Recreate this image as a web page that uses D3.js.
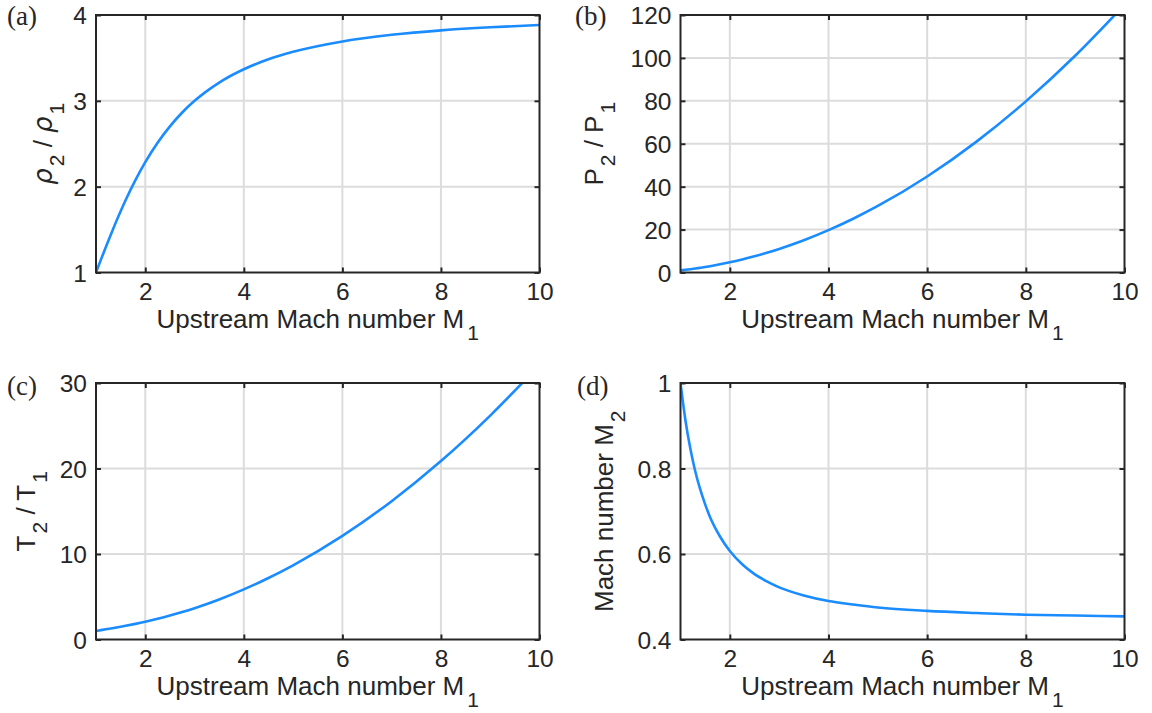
<!DOCTYPE html>
<html>
<head>
<meta charset="utf-8">
<script src="https://cdn.jsdelivr.net/npm/d3@7"></script>
<style>
  html, body { margin: 0; padding: 0; background: #ffffff; }
  svg { display: block; }
  text { fill: #262626; }
</style>
</head>
<body>
<svg id="chart" width="1152" height="713"></svg>
<script>
// Upstream Mach number samples (x values)
const mach = [1, 1.1, 1.2, 1.3, 1.4, 1.5, 1.6, 1.8, 2, 2.25, 2.5, 2.75, 3, 3.5, 4, 4.5, 5, 6, 7, 8, 9, 10];
// (a) density ratio rho2/rho1
const densityRatio = [1.000, 1.150, 1.297, 1.441, 1.581, 1.714, 1.842, 2.077, 2.286, 2.512, 2.703, 2.864, 3.000, 3.213, 3.368, 3.484, 3.571, 3.692, 3.769, 3.821, 3.857, 3.883];
// (b) pressure ratio P2/P1
const pressureRatio = [1.00, 1.26, 1.55, 1.86, 2.20, 2.56, 2.95, 3.80, 4.75, 6.08, 7.56, 9.20, 11.00, 15.06, 19.75, 25.06, 31.00, 44.75, 61.00, 79.75, 101.0, 124.75];
// (c) temperature ratio T2/T1
const temperatureRatio = [1.000, 1.098, 1.195, 1.292, 1.392, 1.495, 1.602, 1.830, 2.078, 2.420, 2.798, 3.214, 3.667, 4.688, 5.863, 7.194, 8.680, 12.12, 16.18, 20.87, 26.19, 32.12];
// (d) downstream Mach number M2
const downstreamMach = [1.000, 0.913, 0.846, 0.793, 0.751, 0.716, 0.686, 0.641, 0.607, 0.576, 0.553, 0.536, 0.522, 0.503, 0.490, 0.482, 0.475, 0.467, 0.462, 0.458, 0.456, 0.454];

// axis ticks
const xTicks = [2, 4, 6, 8, 10];
const yTicksA = [1, 2, 3, 4];
const yTicksB = [0, 20, 40, 60, 80, 100, 120];
const yTicksC = [0, 10, 20, 30];
const yTicksD = [0.4, 0.6, 0.8, 1];
const yTickLabelsD = ["0.4", "0.6", "0.8", "1"];

const xLabelMain = "Upstream Mach number M";
const xLabelSub = "1";

const panels = [
  { id: "a", letter: "(a)", values: densityRatio, yDomain: [1, 4], yTicks: yTicksA, yTickLabels: yTicksA.map(String),
    ylabel: [["ρ", false, true], ["2", true], [" / ", false], ["ρ", false, true], ["1", true]],
    left: 96, right: 539.5, top: 15, bottom: 272.5, ylabX: 52, letterX: 7, letterY: 25, xlabY: 327.5 },
  { id: "b", letter: "(b)", values: pressureRatio, yDomain: [0, 120], yTicks: yTicksB, yTickLabels: yTicksB.map(String),
    ylabel: [["P", false], ["2", true], [" / P", false], ["1", true]],
    left: 680.5, right: 1124.5, top: 15, bottom: 272.5, ylabX: 603, letterX: 575, letterY: 25, xlabY: 327.5 },
  { id: "c", letter: "(c)", values: temperatureRatio, yDomain: [0, 30], yTicks: yTicksC, yTickLabels: yTicksC.map(String),
    ylabel: [["T", false], ["2", true], [" / T", false], ["1", true]],
    left: 96, right: 539.5, top: 383, bottom: 639.5, ylabX: 35, letterX: 7, letterY: 395, xlabY: 695 },
  { id: "d", letter: "(d)", values: downstreamMach, yDomain: [0.4, 1], yTicks: yTicksD, yTickLabels: yTickLabelsD,
    ylabel: [["Mach number M", false], ["2", true]],
    left: 680.5, right: 1124.5, top: 383, bottom: 639.5, ylabX: 613, letterX: 577, letterY: 395, xlabY: 695 }
];

const AX = "#262626", GRID = "#dcdcdc", LINE = "#1a8cff";
const TICKFONT = "24.5px", LABFONT = "26px", SUBFONT = "21px", SUBDY = 12;
const SANS = "'Liberation Sans', Arial, Helvetica, sans-serif";
const SERIF = "'Liberation Serif', 'DejaVu Serif', serif";

const svg = d3.select("#chart");

panels.forEach(p => {
  const x = d3.scaleLinear().domain([1, 10]).range([p.left, p.right]);
  const y = d3.scaleLinear().domain(p.yDomain).range([p.bottom, p.top]);
  const g = svg.append("g");

  // clip
  const clipId = "clip-" + p.id;
  svg.append("clipPath").attr("id", clipId).append("rect")
    .attr("x", p.left).attr("y", p.top).attr("width", p.right - p.left).attr("height", p.bottom - p.top);

  // grid
  g.append("g").selectAll("line").data(xTicks.filter(t => t > 1 && t < 10)).join("line")
    .attr("x1", d => x(d)).attr("x2", d => x(d)).attr("y1", p.top).attr("y2", p.bottom)
    .attr("stroke", GRID).attr("stroke-width", 2);
  g.append("g").selectAll("line").data(p.yTicks.filter(t => t > p.yDomain[0] && t < p.yDomain[1])).join("line")
    .attr("y1", d => y(d)).attr("y2", d => y(d)).attr("x1", p.left).attr("x2", p.right)
    .attr("stroke", GRID).attr("stroke-width", 2);

  // curve
  const line = d3.line().x((d, i) => x(mach[i])).y(d => y(d)).curve(d3.curveMonotoneX);
  g.append("path").datum(p.values).attr("d", line)
    .attr("fill", "none").attr("stroke", LINE).attr("stroke-width", 2.6)
    .attr("clip-path", "url(#" + clipId + ")");

  // axes using d3 axes (inward ticks, mirrored)
  const styleAxis = sel => {
    sel.select(".domain").remove();
    sel.selectAll(".tick line").attr("stroke", AX).attr("stroke-width", 2);
    sel.selectAll("text").attr("font-family", SANS).attr("font-size", TICKFONT).attr("fill", AX);
  };
  const xAxis = d3.axisBottom(x).tickValues(xTicks).tickSizeInner(-5).tickSizeOuter(0).tickPadding(0).tickFormat(d3.format("d"));
  const xg = g.append("g").attr("transform", `translate(0,${p.bottom})`).call(xAxis).call(styleAxis);
  xg.selectAll("text").attr("dy", null).attr("y", 27).attr("dominant-baseline", "alphabetic");
  g.append("g").attr("transform", `translate(0,${p.top})`)
    .call(d3.axisTop(x).tickValues(xTicks).tickSizeInner(-5).tickSizeOuter(0).tickFormat(""))
    .call(styleAxis);

  const yAxis = d3.axisLeft(y).tickValues(p.yTicks).tickSizeInner(-5).tickSizeOuter(0).tickPadding(0)
    .tickFormat((d, i) => p.yTickLabels[i]);
  const yg = g.append("g").attr("transform", `translate(${p.left},0)`).call(yAxis).call(styleAxis);
  yg.selectAll("text").attr("x", -9).attr("dy", "0.36em").attr("text-anchor", "end");
  g.append("g").attr("transform", `translate(${p.right},0)`)
    .call(d3.axisRight(y).tickValues(p.yTicks).tickSizeInner(-5).tickSizeOuter(0).tickFormat(""))
    .call(styleAxis);

  // box
  g.append("rect").attr("x", p.left).attr("y", p.top)
    .attr("width", p.right - p.left).attr("height", p.bottom - p.top)
    .attr("fill", "none").attr("stroke", AX).attr("stroke-width", 2);

  // x label
  const xl = g.append("text").attr("x", (p.left + p.right) / 2).attr("y", p.xlabY)
    .attr("text-anchor", "middle").attr("font-family", SANS).attr("font-size", LABFONT);
  xl.append("tspan").text(xLabelMain);
  xl.append("tspan").attr("dy", SUBDY).attr("dx", 3).attr("font-size", SUBFONT).text(xLabelSub);

  // y label
  const yl = g.append("text")
    .attr("transform", `translate(${p.ylabX},${(p.top + p.bottom) / 2}) rotate(-90)`)
    .attr("text-anchor", "middle").attr("font-family", SANS).attr("font-size", LABFONT)
    .style("white-space", "pre");
  let shifted = false;
  p.ylabel.forEach(([txt, sub, greek]) => {
    const t = yl.append("tspan").text(txt);
    if (sub && !shifted) { t.attr("dy", SUBDY).attr("dx", 2); shifted = true; }
    else if (!sub && shifted) { t.attr("dy", -SUBDY); shifted = false; }
    if (sub) t.attr("font-size", SUBFONT);
    if (greek) t.attr("font-family", "'DejaVu Sans', sans-serif").attr("font-style", "italic");
  });

  // panel letter
  g.append("text").attr("x", p.letterX).attr("y", p.letterY)
    .attr("font-family", SERIF).attr("font-size", "27px").text(p.letter);
});
</script>
</body>
</html>
